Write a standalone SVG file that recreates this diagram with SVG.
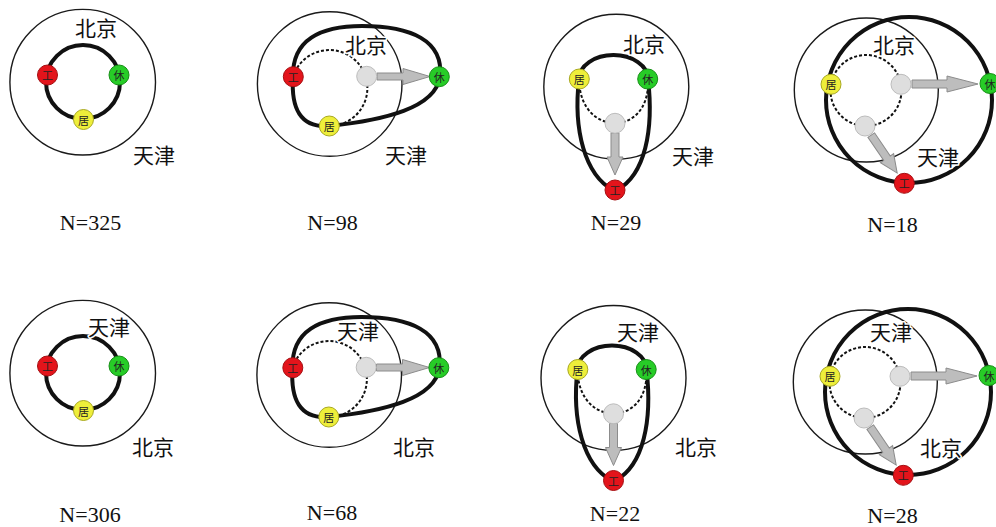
<svg xmlns="http://www.w3.org/2000/svg" width="996" height="527" viewBox="0 0 996 527">
<style>
.bg{fill:#fff}
.thin{fill:none;stroke:#1a1a1a;stroke-width:1.4}
.thick{fill:none;stroke:#111;stroke-width:4;stroke-linejoin:round}
.dash{fill:none;stroke:#111;stroke-width:2;stroke-dasharray:3 2}
.arrow{fill:#bdbdbd;stroke:#8c8c8c;stroke-width:1;stroke-linejoin:miter}
.nw{fill:#e3141b;stroke:#a50d10;stroke-width:1}
.nl{fill:#27cc27;stroke:#169016;stroke-width:1}
.nh{fill:#eeee3a;stroke:#a8a820;stroke-width:1}
.ng{fill:#dedede;stroke:#bcbcbc;stroke-width:1}
.nt{font-family:"Noto Sans CJK SC","Noto Sans CJK JP",sans-serif;font-size:11px;fill:#222;text-anchor:middle;dominant-baseline:central}
.city{font-family:"Noto Sans CJK SC","Noto Sans CJK JP",sans-serif;font-size:21px;fill:#111;paint-order:stroke;stroke:#fff;stroke-width:3px;stroke-linejoin:round}
.n{font-family:"Liberation Serif","Times New Roman",serif;font-size:22px;fill:#111;text-anchor:middle}
</style>
<rect class="bg" x="0" y="0" width="996" height="527"/>

<!-- Panel 1 -->
<g id="p1">
  <g id="p1-connectors">
    <circle class="thin" cx="82.7" cy="82.2" r="72.8"/>
    <circle class="thick" cx="83" cy="82" r="37"/>
  </g>
  <g id="p1-gong"><circle class="nw" cx="47.5" cy="75" r="10"/><text class="nt" x="47.5" y="75">工</text></g>
  <g id="p1-xiu"><circle class="nl" cx="119" cy="75" r="10"/><text class="nt" x="119" y="75">休</text></g>
  <g id="p1-ju"><circle class="nh" cx="83.5" cy="119.5" r="10"/><text class="nt" x="83.5" y="119.5">居</text></g>
  <text class="city" x="75" y="36">北京</text>
  <text class="city" x="133" y="163">天津</text>
  <text class="n" x="90.5" y="230">N=325</text>
</g>

<!-- Panel 2 -->
<g id="p2">
  <g id="p2-connectors">
    <circle class="thin" cx="329.7" cy="84" r="72.3"/>
    <path class="dash" d="M293,77 A38,38 0 1 1 329,126"/>
    <path class="thick" d="M293,77 C292,40 320,26 362,26 C410,26 444,40 440,77 C435,108 385,120 329,126 C300,128 291,108 293,77 Z"/>
    <path class="arrow" transform="translate(377,76.5)" d="M0,-3.5 H26 V-8 L53,0 L26,8 V3.5 H0 Z"/>
  </g>
  <g id="p2-gong"><circle class="nw" cx="293.3" cy="76.7" r="10"/><text class="nt" x="293.3" y="76.7">工</text></g>
  <g id="p2-xiu"><circle class="nl" cx="439.3" cy="76.7" r="10"/><text class="nt" x="439.3" y="76.7">休</text></g>
  <g id="p2-ju"><circle class="nh" cx="329.3" cy="126" r="10"/><text class="nt" x="329.3" y="126">居</text></g>
  <g id="p2-old"><circle class="ng" cx="366.7" cy="76.3" r="10"/></g>
  <text class="city" x="345" y="53">北京</text>
  <text class="city" x="385" y="163">天津</text>
  <text class="n" x="332.5" y="230">N=98</text>
</g>

<!-- Panel 3 -->
<g id="p3">
  <g id="p3-connectors">
    <circle class="thin" cx="616.3" cy="86.7" r="72.5"/>
    <path class="dash" d="M579,80 C580,110 598,123 615,123 C632,123 649,110 648,80"/>
    <path class="thick" d="M613,190 C585,175 573,130 579,79 A34.5,24 0 0 1 648,79 C654,130 645,175 617,190"/>
    <path class="arrow" transform="translate(615,133) rotate(90)" d="M0,-4 H24 V-8 L42,0 L24,8 V4 H0 Z"/>
  </g>
  <g id="p3-ju"><circle class="nh" cx="579.3" cy="79" r="10"/><text class="nt" x="579.3" y="79">居</text></g>
  <g id="p3-xiu"><circle class="nl" cx="647.7" cy="79" r="10"/><text class="nt" x="647.7" y="79">休</text></g>
  <g id="p3-old"><circle class="ng" cx="615" cy="123.3" r="10"/></g>
  <g id="p3-gong"><circle class="nw" cx="615" cy="190" r="10"/><text class="nt" x="615" y="190">工</text></g>
  <text class="city" x="623" y="52">北京</text>
  <text class="city" x="672" y="164">天津</text>
  <text class="n" x="616" y="230">N=29</text>
</g>

<!-- Panel 4 -->
<g id="p4">
  <g id="p4-connectors">
    <circle class="thin" cx="866.3" cy="90" r="72"/>
    <circle class="dash" cx="866" cy="90.5" r="35.5"/>
    <circle class="thick" cx="909" cy="100" r="83"/>
    <path class="arrow" transform="translate(912,84)" d="M0,-4 H35 V-8 L66,0 L35,8 V4 H0 Z"/>
    <path class="arrow" transform="translate(871.2,135.1) rotate(55.6)" d="M0,-4 H28 V-8 L46,0 L28,8 V4 H0 Z"/>
  </g>
  <g id="p4-ju"><circle class="nh" cx="831" cy="84.3" r="10"/><text class="nt" x="831" y="84.3">居</text></g>
  <g id="p4-old1"><circle class="ng" cx="901" cy="84.3" r="10"/></g>
  <g id="p4-xiu"><circle class="nl" cx="990" cy="83.5" r="10"/><text class="nt" x="990" y="83.5">休</text></g>
  <g id="p4-old2"><circle class="ng" cx="865" cy="126" r="10"/></g>
  <g id="p4-gong"><circle class="nw" cx="904.3" cy="183.3" r="10"/><text class="nt" x="904.3" y="183.3">工</text></g>
  <text class="city" x="873" y="53">北京</text>
  <text class="city" x="917" y="165">天津</text>
  <text class="n" x="892.5" y="232">N=18</text>
</g>

<!-- Panel 5 -->
<g id="p5">
  <g transform="translate(0,291)">
    <g id="p5-connectors">
      <circle class="thin" cx="82.7" cy="82.2" r="72.8"/>
      <circle class="thick" cx="83" cy="82" r="37"/>
    </g>
    <g id="p5-gong"><circle class="nw" cx="47.5" cy="75" r="10"/><text class="nt" x="47.5" y="75">工</text></g>
    <g id="p5-xiu"><circle class="nl" cx="119" cy="75" r="10"/><text class="nt" x="119" y="75">休</text></g>
    <g id="p5-ju"><circle class="nh" cx="83.5" cy="119.5" r="10"/><text class="nt" x="83.5" y="119.5">居</text></g>
  </g>
  <text class="city" x="88" y="335">天津</text>
  <text class="city" x="132" y="455">北京</text>
  <text class="n" x="90" y="522">N=306</text>
</g>

<!-- Panel 6 -->
<g id="p6">
  <g transform="translate(-0.5,291)">
    <g id="p6-connectors">
      <circle class="thin" cx="329.7" cy="84" r="72.3"/>
      <path class="dash" d="M293,77 A38,38 0 1 1 329,126"/>
      <path class="thick" d="M293,77 C292,40 320,26 362,26 C410,26 444,40 440,77 C435,108 385,120 329,126 C300,128 291,108 293,77 Z"/>
      <path class="arrow" transform="translate(377,76.5)" d="M0,-3.5 H26 V-8 L53,0 L26,8 V3.5 H0 Z"/>
    </g>
    <g id="p6-gong"><circle class="nw" cx="293.3" cy="76.7" r="10"/><text class="nt" x="293.3" y="76.7">工</text></g>
    <g id="p6-xiu"><circle class="nl" cx="439.3" cy="76.7" r="10"/><text class="nt" x="439.3" y="76.7">休</text></g>
    <g id="p6-ju"><circle class="nh" cx="329.3" cy="126" r="10"/><text class="nt" x="329.3" y="126">居</text></g>
    <g id="p6-old"><circle class="ng" cx="366.7" cy="76.3" r="10"/></g>
  </g>
  <text class="city" x="337" y="339">天津</text>
  <text class="city" x="393" y="455">北京</text>
  <text class="n" x="332" y="520">N=68</text>
</g>

<!-- Panel 7 -->
<g id="p7">
  <g transform="translate(-1.5,290.5)">
    <g id="p7-connectors">
      <circle class="thin" cx="615" cy="87.5" r="72.5"/>
      <path class="dash" d="M579,80 C580,110 598,123 615,123 C632,123 649,110 648,80"/>
      <path class="thick" d="M613,190 C585,175 573,130 579,79 A34.5,24 0 0 1 648,79 C654,130 645,175 617,190"/>
      <path class="arrow" transform="translate(615,133) rotate(90)" d="M0,-4 H24 V-8 L42,0 L24,8 V4 H0 Z"/>
    </g>
    <g id="p7-ju"><circle class="nh" cx="579.3" cy="79" r="10"/><text class="nt" x="579.3" y="79">居</text></g>
    <g id="p7-xiu"><circle class="nl" cx="647.7" cy="79" r="10"/><text class="nt" x="647.7" y="79">休</text></g>
    <g id="p7-old"><circle class="ng" cx="615" cy="123.3" r="10"/></g>
    <g id="p7-gong"><circle class="nw" cx="615" cy="190" r="10"/><text class="nt" x="615" y="190">工</text></g>
  </g>
  <text class="city" x="617" y="340">天津</text>
  <text class="city" x="675" y="455">北京</text>
  <text class="n" x="615" y="521">N=22</text>
</g>

<!-- Panel 8 -->
<g id="p8">
  <g transform="translate(-1,292)">
    <g id="p8-connectors">
      <circle class="thin" cx="866.3" cy="90" r="72"/>
      <circle class="dash" cx="866" cy="90.5" r="35.5"/>
      <circle class="thick" cx="909" cy="100" r="83"/>
      <path class="arrow" transform="translate(912,84)" d="M0,-4 H35 V-8 L66,0 L35,8 V4 H0 Z"/>
      <path class="arrow" transform="translate(871.2,135.1) rotate(55.6)" d="M0,-4 H28 V-8 L46,0 L28,8 V4 H0 Z"/>
    </g>
    <g id="p8-ju"><circle class="nh" cx="831" cy="84.3" r="10"/><text class="nt" x="831" y="84.3">居</text></g>
    <g id="p8-old1"><circle class="ng" cx="901" cy="84.3" r="10"/></g>
    <g id="p8-xiu"><circle class="nl" cx="990" cy="83.5" r="10"/><text class="nt" x="990" y="83.5">休</text></g>
    <g id="p8-old2"><circle class="ng" cx="865" cy="126" r="10"/></g>
    <g id="p8-gong"><circle class="nw" cx="904.3" cy="183.3" r="10"/><text class="nt" x="904.3" y="183.3">工</text></g>
  </g>
  <text class="city" x="870" y="340">天津</text>
  <text class="city" x="920" y="456">北京</text>
  <text class="n" x="892.5" y="523">N=28</text>
</g>
</svg>
